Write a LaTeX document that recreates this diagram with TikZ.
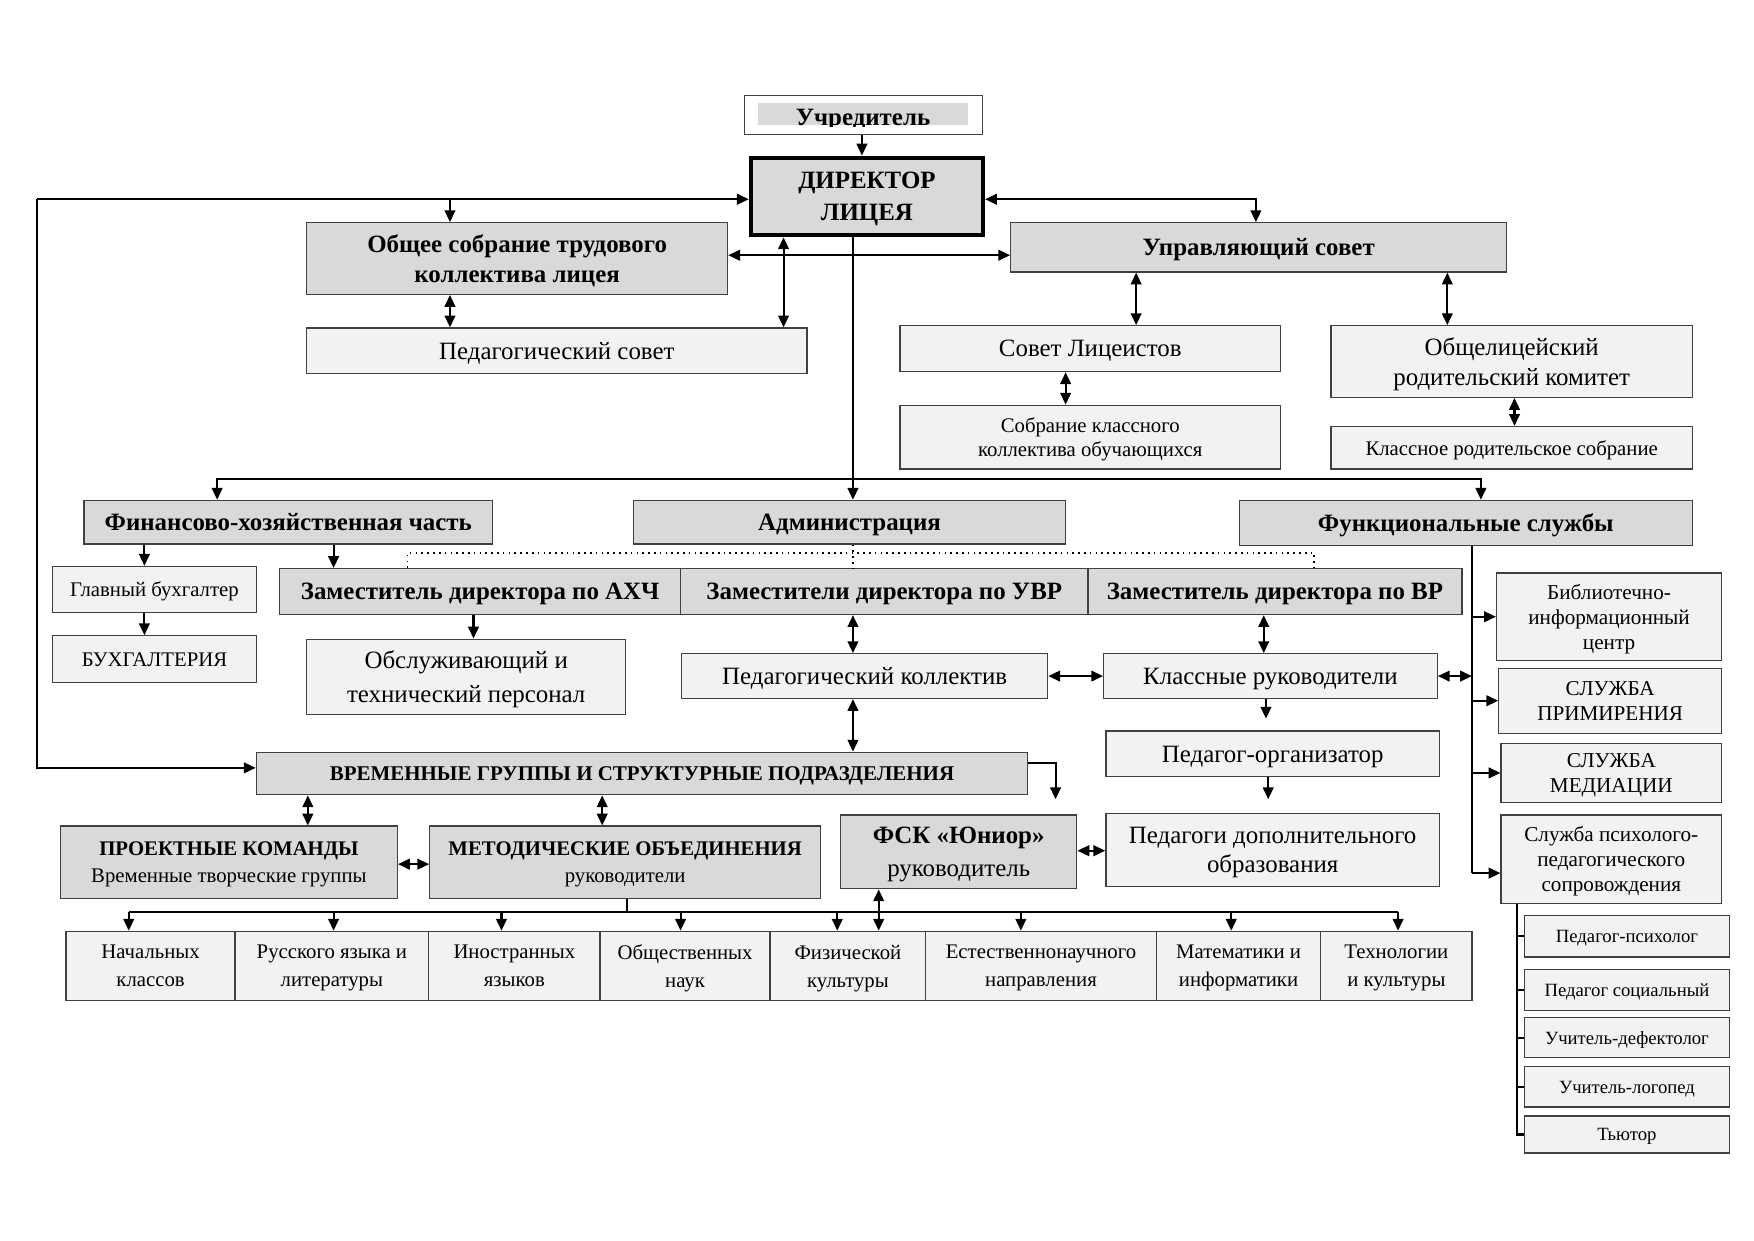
\documentclass[tikz,border=0pt]{standalone}
\usepackage{fontspec}
\setmainfont{Liberation Serif}
\usetikzlibrary{arrows.meta}
\definecolor{hdr}{HTML}{D9D9D9}
\definecolor{lt}{HTML}{F2F2F2}
\definecolor{bord}{HTML}{404040}
\def\un{0.189534mm}
\newcommand\fsz[2]{\fontsize{#1}{#2}\selectfont}
\newcommand\bx[7]{\node[#1, minimum width={(#5-#3)*\un}, minimum height={(#6-#4)*\un}] (#2) at ({(#3+#5)/2},{(#4+#6)/2}) {#7};}
\tikzset{
  basebox/.style={draw=bord, line width=0.6pt, inner sep=0pt, align=center, text depth=0pt},
  hbox/.style={basebox, fill=hdr, font=\bfseries\fsz{12}{14}},
  lbox/.style={basebox, fill=lt, font=\fsz{12}{14}},
  wbox/.style={basebox, fill=white},
  arr/.style={-{Triangle[length=2mm,width=1.8mm]}, line width=1pt},
  darr/.style={{Triangle[length=2mm,width=1.8mm]}-{Triangle[length=2mm,width=1.8mm]}, line width=1pt},
  ln/.style={line width=1pt},
  dots/.style={dotted, line width=0.8pt}
}
\begin{document}
\begin{tikzpicture}[x=\un, y=-\un]
\fill[white] (0,0) rectangle (1567,1108);
\useasboundingbox (0,0) rectangle (1567,1108);

% top
\bx{wbox}{uchr}{665}{85}{878}{120}{}
\fill[hdr] (677,92) rectangle (865,112);
\begin{scope}
\clip (677,92) rectangle (865,112.6);
\node[font=\bfseries\fsz{12}{14}, anchor=base, inner sep=0pt] (uchrt) at (771,112) {Учредитель};
\end{scope}
\bx{hbox, draw=black, line width=2.2pt, font=\bfseries\fsz{12}{15.5}}{dir}{671}{141}{878}{210}{ДИРЕКТОР\\ЛИЦЕЯ}
\bx{hbox, font=\bfseries\fsz{12}{14}}{obsh}{274}{199}{650}{263}{Общее собрание трудового\\коллектива лицея}
\bx{hbox}{upr}{903}{199}{1346}{243}{Управляющий совет}
\bx{lbox}{pedsov}{274}{293}{721}{334}{Педагогический совет}
\bx{lbox}{sovlic}{804}{291}{1144}{332}{Совет Лицеистов}
\bx{lbox, font=\fsz{12}{14.5}}{obshrod}{1189}{291}{1512}{355}{Общелицейский\\родительский комитет}
\bx{lbox, font=\fsz{10}{12}}{sobr}{804}{362}{1144}{419}{Собрание классного\\коллектива обучающихся}
\bx{lbox, font=\fsz{10}{12}}{klrod}{1189}{381}{1512}{419}{Классное родительское собрание}

% second level
\bx{hbox}{fin}{75}{447}{440}{486}{Финансово-хозяйственная часть}
\bx{hbox}{adm}{566}{447}{952}{486}{Администрация}
\bx{hbox}{func}{1107}{447}{1512}{487}{Функциональные службы}
\bx{lbox, font=\fsz{10}{12}}{glbuh}{47}{506}{229}{547}{Главный бухгалтер}
\bx{lbox, font=\fsz{10}{12}}{buh}{47}{568}{229}{610}{БУХГАЛТЕРИЯ}
\bx{hbox}{ahch}{250}{508}{608}{549}{Заместитель директора по АХЧ}
\bx{hbox}{uvr}{608}{508}{972}{549}{Заместители директора по УВР}
\bx{hbox}{vr}{972}{508}{1306}{549}{Заместитель директора по ВР}
\bx{lbox, font=\fsz{12}{16}}{obsl}{274}{571}{559}{638}{Обслуживающий и\\технический персонал}
\bx{lbox}{pedkol}{609}{584}{936}{624}{Педагогический коллектив}
\bx{lbox}{klruk}{986}{584}{1284}{624}{Классные руководители}
\bx{lbox}{pedorg}{988}{653}{1286}{694}{Педагог-организатор}
\bx{lbox, font=\fsz{12}{14}}{peddop}{988}{727}{1286}{792}{Педагоги дополнительного\\образования}
\bx{hbox, font=\bfseries\fsz{10.1}{12}}{vrem}{229}{672}{918}{710}{ВРЕМЕННЫЕ ГРУППЫ И СТРУКТУРНЫЕ ПОДРАЗДЕЛЕНИЯ}
\bx{hbox, font=\bfseries\fsz{10}{13}}{proekt}{54}{738}{355}{803}{ПРОЕКТНЫЕ КОМАНДЫ\\\mdseries Временные творческие группы}
\bx{hbox, font=\bfseries\fsz{10}{13}}{metod}{384}{738}{733}{803}{МЕТОДИЧЕСКИЕ ОБЪЕДИНЕНИЯ\\\mdseries руководители}
\bx{hbox, font=\bfseries\fsz{12}{15.5}}{fsk}{751}{728}{962}{794}{ФСК «Юниор»\\\mdseries руководитель}

% bottom row
\bx{lbox, font=\fsz{10}{13.5}}{nach}{59}{832}{210}{894}{Начальных\\классов}
\bx{lbox, font=\fsz{10}{13.5}}{rus}{210}{832}{383}{894}{Русского языка и\\литературы}
\bx{lbox, font=\fsz{10}{13.5}}{inostr}{383}{832}{536}{894}{Иностранных\\языков}
\bx{lbox, font=\fsz{10}{13.5}}{obshch}{536}{832}{688}{894}{Общественных\\наук}
\bx{lbox, font=\fsz{10}{13.5}}{fiz}{688}{832}{827}{894}{Физической\\культуры}
\bx{lbox, font=\fsz{10}{13.5}}{est}{827}{832}{1033}{894}{Естественнонаучного\\направления}
\bx{lbox, font=\fsz{10}{13.5}}{mat}{1033}{832}{1180}{894}{Математики и\\информатики}
\bx{lbox, font=\fsz{10}{13.5}}{tech}{1180}{832}{1315}{894}{Технологии\\и культуры}

% services
\bx{lbox, font=\fsz{10.2}{12}}{bib}{1337}{512}{1538}{590}{Библиотечно-\\информационный\\центр}
\bx{lbox, font=\fsz{10.2}{12}}{prim}{1339}{597}{1538}{655}{СЛУЖБА\\ПРИМИРЕНИЯ}
\bx{lbox, font=\fsz{10.2}{12}}{med}{1341}{664}{1538}{717}{СЛУЖБА\\МЕДИАЦИИ}
\bx{lbox, font=\fsz{10.2}{12}}{psy}{1341}{728}{1538}{807}{Служба психолого-\\педагогического\\сопровождения}
\bx{lbox, font=\fsz{9}{11}}{psih}{1362}{818}{1545}{855}{Педагог-психолог}
\bx{lbox, font=\fsz{9}{11}}{soc}{1362}{866}{1545}{903}{Педагог социальный}
\bx{lbox, font=\fsz{9}{11}}{def}{1362}{909}{1545}{945}{Учитель-дефектолог}
\bx{lbox, font=\fsz{9}{11}}{log}{1362}{953}{1545}{989}{Учитель-логопед}
\bx{lbox, font=\fsz{9}{11}}{tut}{1362}{997}{1545}{1030}{Тьютор}

% connectors top
\draw[arr] (uchr.south -| 770,0) -- (dir.north -| 770,0);
\coordinate (L1) at (33,178);
\coordinate (L2) at (33,686);
\draw[arr] (L1) -- (L1 -| dir.west);
\draw[arr] (L1) -- (L2) -- (L2 -| vrem.west);
\draw[arr] (402,178) -- (obsh.north -| 402,0);
\coordinate (R1) at (1122,178);
\draw[darr] (R1 -| dir.east) -- (R1) -- (upr.north -| R1);
\draw[darr] (obsh.east |- 0,228) -- (upr.west |- 0,228);
\draw[darr] (dir.south -| 700,0) -- (pedsov.north -| 700,0);
\draw[darr] (obsh.south -| 402,0) -- (pedsov.north -| 402,0);
\draw[darr] (upr.south -| 1015,0) -- (sovlic.north -| 1015,0);
\draw[darr] (upr.south -| 1293,0) -- (obshrod.north -| 1293,0);
\draw[darr] (sovlic.south -| 952,0) -- (sobr.north -| 952,0);
\draw[darr] (obshrod.south -| 1353,0) -- (klrod.north -| 1353,0);

% director down
\coordinate (J) at (762,428);
\draw[arr] (dir.south -| J) -- (adm.north -| J);
\draw[arr] (J) -| (fin.north -| 194,0);
\draw[arr] (J) -| (func.north -| 1323,0);

% fin
\draw[arr] (fin.south -| 129,0) -- (glbuh.north -| 129,0);
\draw[arr] (glbuh.south -| 129,0) -- (buh.north -| 129,0);
\draw[arr] (fin.south -| 298,0) -- (ahch.north -| 298,0);

% dotted
\coordinate (D1) at (364,494);
\coordinate (D2) at (1174,494);
\draw[dots] (ahch.north -| D1) -- (D1) -- (D2) -- (vr.north -| D2);
\draw[dots] (adm.south -| J) -- (uvr.north -| J);

% admin level
\draw[arr] (ahch.south -| 423,0) -- (obsl.north -| 423,0);
\draw[darr] (uvr.south -| J) -- (pedkol.north -| J);
\draw[darr] (vr.south -| 1129,0) -- (klruk.north -| 1129,0);
\draw[darr] (pedkol.east) -- (klruk.west |- pedkol.east);
\coordinate (F4) at (1315,780);
\draw[darr] (klruk.east) -- (klruk.east -| F4);
\coordinate (a1) at (1131,642);
\draw[arr] (klruk.south -| a1) -- (a1);
\coordinate (a2) at (1133,714);
\draw[arr] (pedorg.south -| a2) -- (a2);
\draw[darr] (pedkol.south -| J) -- (vrem.north -| J);

% vrem
\coordinate (v1) at (943,682);
\coordinate (v2) at (943,714);
\draw[arr] (vrem.east |- v1) -- (v1) -- (v2);
\draw[darr] (vrem.south -| 275,0) -- (proekt.north -| 275,0);
\draw[darr] (vrem.south -| 538,0) -- (metod.north -| 538,0);
\draw[darr] (proekt.east |- 0,772) -- (metod.west |- 0,772);
\draw[darr] (fsk.east |- 0,760) -- (peddop.west |- 0,760);

% bottom distribution
\coordinate (M) at (560,815);
\draw[ln] (metod.south -| M) -- (M);
\draw[ln] (115,815) -- (1249,815);
\draw[arr] (115,815) -- (nach.north -| 115,0);
\draw[arr] (298,815) -- (rus.north -| 298,0);
\draw[arr] (448,815) -- (inostr.north -| 448,0);
\draw[arr] (608,815) -- (obshch.north -| 608,0);
\draw[arr] (748,815) -- (fiz.north -| 748,0);
\draw[arr] (912,815) -- (est.north -| 912,0);
\draw[arr] (1100,815) -- (mat.north -| 1100,0);
\draw[arr] (1249,815) -- (tech.north -| 1249,0);
\draw[darr] (fsk.south -| 785,0) -- (fiz.north -| 785,0);

% functional services
\draw[ln] (func.south -| F4) -- (F4);
\draw[arr] (bib.west -| F4) -- (bib.west);
\draw[arr] (prim.west -| F4) -- (prim.west);
\draw[arr] (med.west -| F4) -- (med.west);
\draw[arr] (F4) -- (F4 -| psy.west);
\coordinate (P1) at (1355,0);
\draw[ln] (psy.south -| P1) -- (tut.west -| P1) -- (tut.west);
\foreach \n in {psih,soc,def,log} \draw[ln] (\n.west -| P1) -- (\n.west);
\end{tikzpicture}
\end{document}
